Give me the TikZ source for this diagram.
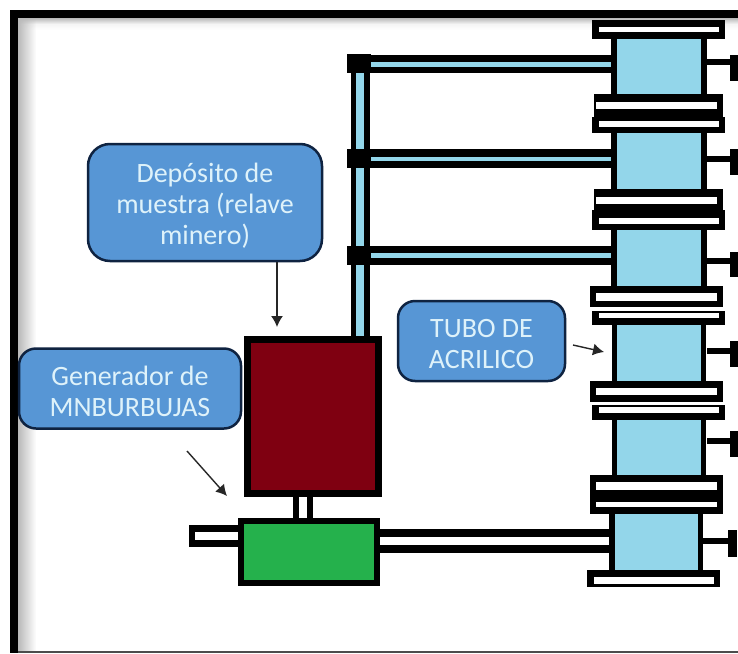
\documentclass[tikz,border=0pt]{standalone}
\usepackage{fontspec}
\usepackage{xcolor}
\usepackage{tikz}
\usetikzlibrary{arrows.meta,fadings}
\setmainfont{Carlito}
\definecolor{agua}{RGB}{147,214,234}
\definecolor{vino}{RGB}{127,0,17}
\definecolor{verde}{RGB}{37,177,76}
\definecolor{caja}{RGB}{87,150,213}
\definecolor{borde}{RGB}{15,35,65}
\definecolor{letra}{RGB}{222,242,250}
\newcommand{\bajar}{\rule{0pt}{25pt}}
\tikzset{
  rotulo/.style={draw=borde, line width=2.5pt, fill=caja, text=letra, align=center,
    font=\fontsize{28}{31}\selectfont},
  flecha/.style={-{Latex[length=11pt,width=12pt]}, line width=1.4pt, black!85},
}

\begin{document}
\begin{tikzpicture}[x=1pt, y=-1pt]
        \useasboundingbox (0,0) rectangle (738,653);
        \fill[white] (0,0) rectangle (738,653);

        % Frame and its soft shadow
        \shade[top color=gray!55, bottom color=white, middle color=gray!8] (18,18) rectangle (738,30);
        \fill[gray!55, path fading=east] (18,18) rectangle (36,651);
        \fill[black] (10,10) rectangle (738,18);
        \fill[black] (10,10) rectangle (18,653);
        \fill[black!70] (18,651) rectangle (738,653);

        % Acrylic tubes
        \draw[line width=6pt, fill=agua] (614,36) rectangle (704,97);
        \draw[line width=6pt, fill=agua] (614,130) rectangle (704,192);
        \draw[line width=6pt, fill=agua] (614,227) rectangle (704,289);
        \draw[line width=5.5pt, fill=agua] (614.5,322) rectangle (703.5,384);
        \draw[line width=5.5pt, fill=agua] (614.5,417) rectangle (703.5,478);
        \draw[line width=5.5pt, fill=agua] (612,511) rectangle (700.5,573);

        % Flanges
        \fill[black] (592,20) rectangle (725,39);   \fill[white] (599,27) rectangle (719,32);
        \fill[black] (594,94) rectangle (723,117);  \fill[white] (596,102) rectangle (717,109);
        \fill[black] (592,117) rectangle (725,133); \fill[white] (599,121) rectangle (719,127);
        \fill[black] (594,189) rectangle (723,210); \fill[white] (596,197) rectangle (717,204);
        \fill[black] (592,210) rectangle (725,230); \fill[white] (599,218) rectangle (719,224);
        \fill[black] (590,286) rectangle (723,307); \fill[white] (596,293) rectangle (717,301);
        \fill[black] (592,311) rectangle (725,325); \fill[white] (599,313) rectangle (719,318);
        \fill[black] (590,381) rectangle (723,402); \fill[white] (596,388) rectangle (717,395);
        \fill[black] (592,405) rectangle (725,420); \fill[white] (599,407) rectangle (719,413);
        \fill[black] (590,475) rectangle (723,514); \fill[white] (596,482) rectangle (717,490);
        \fill[white] (596,502) rectangle (717,507);
        \fill[black] (587,570) rectangle (720,587); \fill[white] (594,577) rectangle (714,584);

        % Side outlets
        \fill[black] (707,59) rectangle (730,65);  \fill[black] (730,55) rectangle (738,81);
        \fill[black] (707,156) rectangle (730,162); \fill[black] (730,149) rectangle (738,175);
        \fill[black] (707,258) rectangle (730,264); \fill[black] (730,252) rectangle (738,277);
        \fill[black] (707,348) rectangle (730,354); \fill[black] (730,341) rectangle (738,367);
        \fill[black] (707,438) rectangle (730,444); \fill[black] (730,431) rectangle (738,457);
        \fill[black] (703,538) rectangle (728,544); \fill[black] (728,530) rectangle (737,557);

        % Riser with its three branches
        \fill[black] (351,54) rectangle (370,338);
        \fill[agua]  (356,54) rectangle (364,336);
        \fill[black] (371,55) rectangle (611,73);   \fill[agua] (371,62) rectangle (611,67);
        \fill[black] (371,149) rectangle (611,168); \fill[agua] (371,157) rectangle (611,161);
        \fill[black] (371,246) rectangle (611,265); \fill[agua] (371,253) rectangle (611,258);
        \fill[black] (347,54) rectangle (371,73);
        \fill[black] (347,149) rectangle (371,168);
        \fill[black] (347,246) rectangle (371,265);

        % Lower pipes and stem
        \fill[black] (189,525) rectangle (240,547); \fill[white] (195,532) rectangle (240,540);
        \fill[black] (378,529) rectangle (611,553); \fill[white] (380,537) rectangle (609,545);
        \fill[black] (293,495) rectangle (313,519); \fill[white] (299,497) rectangle (307,518);

        % Sample tank and generator
        \draw[line width=7pt, fill=vino] (247.5,339) rectangle (378.5,493.5);
        \draw[line width=6pt, fill=verde] (241,520.5) rectangle (376.5,583);

        % Labels
        \node[rotulo, minimum width=234pt, minimum height=117pt, rounded corners=22pt] (deposito) at (205,202.5) {\bajar Depósito de\\muestra (relave\\minero)};
        \node[rotulo, minimum width=222pt, minimum height=80pt, rounded corners=17pt] (generador) at (130,388.5) {\bajar Generador de\\MNBURBUJAS};
        \node[rotulo, minimum width=167pt, minimum height=80pt, rounded corners=17pt] (acrilico) at (481.5,341) {\bajar TUBO DE\\ACRILICO};

        % Arrow end points
        \coordinate (a1) at (277,327);
        \coordinate (a2) at (187,451);
        \coordinate (a3) at (227,496);
        \coordinate (a4) at (573,345);
        \coordinate (a5) at (604,352);

        % Arrows
        \draw[flecha] (deposito.south -| a1) -- (a1);
        \draw[flecha] (a2) -- (a3);
        \draw[flecha] (a4) -- (a5);
    \end{tikzpicture}
\end{document}
